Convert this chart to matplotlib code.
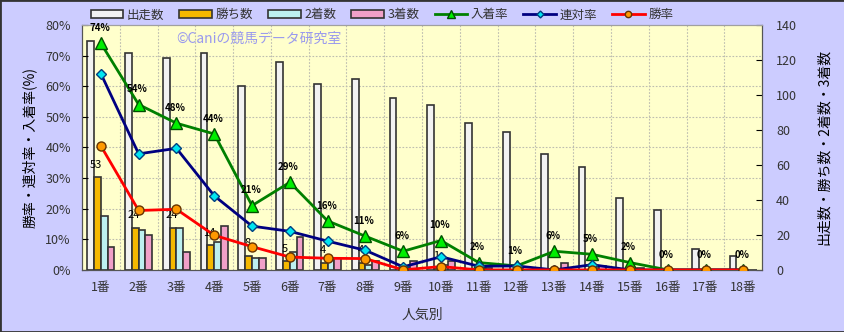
import matplotlib
matplotlib.use("Agg")
import matplotlib.pyplot as plt
import numpy as np
from matplotlib.patches import Rectangle

plt.rcParams['font.family'] = ['Noto Sans CJK JP', 'DejaVu Sans']

# data
labels = ['%d番' % i for i in range(1, 19)]
starts = [131, 124, 121, 124, 105, 119, 106, 109, 98, 94, 84, 79, 66, 59, 41, 34, 12, 8]
wins = [53, 24, 24, 14, 8, 5, 4, 4, 0, 1, 0, 0, 0, 0, 0, 0, 0, 0]
second = [31, 23, 24, 16, 7, 10, 6, 3, 1, 3, 1, 1, 0, 1, 0, 0, 0, 0]
third = [13, 20, 10, 25, 7, 19, 7, 5, 5, 5, 1, 0, 4, 2, 1, 0, 0, 0]
place_rate = [74.0, 54.0, 47.9, 44.4, 21.0, 28.6, 16.0, 11.0, 6.1, 9.6, 2.4, 1.3, 6.1, 5.1, 2.4, 0, 0, 0]
rentai_rate = [64.1, 37.9, 39.7, 24.2, 14.3, 12.6, 9.4, 6.4, 1.0, 4.3, 1.2, 1.3, 0, 1.7, 0, 0, 0, 0]
win_rate = [40.5, 19.4, 19.8, 11.3, 7.6, 4.2, 3.8, 3.7, 0, 1.1, 0, 0, 0, 0, 0, 0, 0, 0]

fig = plt.figure(figsize=(8.45, 3.32), dpi=100)
fig.patch.set_facecolor('#CCCCFF')
fig.patches.append(Rectangle((0, 0), 1, 1, transform=fig.transFigure, fill=False,
                             edgecolor='#333333', lw=2))

ax = fig.add_axes([0.097, 0.187, 0.805, 0.738])
axp = ax.twinx()
ax.set_facecolor('#FFFFCC')
x = np.arange(len(labels))
w = 0.18

# grid behind bars
for y in np.arange(17.5, 140, 17.5):
    ax.axhline(y, color='#BDBDB0', lw=0.8, ls=(0, (1.5, 1.5)), zorder=0)
for i in range(len(labels) - 1):
    ax.axvline(i + 0.5, color='#BDBDB0', lw=0.8, ls=(0, (1.5, 1.5)), zorder=0)

ec = '#333333'
b1 = ax.bar(x - 1.5 * w, starts, w, color='#F2F2F2', edgecolor=ec, lw=1.2, label='出走数', zorder=2)
b2 = ax.bar(x - 0.5 * w, wins, w, color='#F5B800', edgecolor=ec, lw=1.2, label='勝ち数', zorder=2)
b3 = ax.bar(x + 0.5 * w, second, w, color='#BDF0F0', edgecolor=ec, lw=1.2, label='2着数', zorder=2)
b4 = ax.bar(x + 1.5 * w, third, w, color='#F0A0C8', edgecolor=ec, lw=1.2, label='3着数', zorder=2)

for xi, v in zip(x, wins):
    if v > 0:
        ax.annotate(str(v), (xi - 0.5 * w, v), xytext=(-1, 9), textcoords='offset points',
                    ha='center', va='center', fontsize=8, zorder=3)

ax.set_xlim(-0.5, len(labels) - 0.5)
ax.set_ylim(0, 140)
ax.set_yticks(range(0, 141, 20))
ax.yaxis.tick_right()
ax.yaxis.set_label_position('right')
ax.set_ylabel('出走数・勝ち数・2着数・3着数', rotation=90, fontsize=10, labelpad=14)
ax.set_xticks(x)
ax.set_xticklabels(labels)
ax.set_xlabel('人気別', fontsize=10, color='#333333', labelpad=10)
ax.tick_params(axis='x', length=0, labelsize=9, labelcolor='#333333', pad=8)
ax.tick_params(axis='y', direction='in', length=4, labelsize=9, labelcolor='#333333', pad=10)

axp.yaxis.tick_left()
axp.yaxis.set_label_position('left')
axp.set_ylim(0, 80)
axp.set_yticks(range(0, 81, 10))
axp.set_yticklabels(['%d%%' % t for t in range(0, 81, 10)])
axp.tick_params(axis='y', direction='in', length=4, labelsize=9, labelcolor='#333333', pad=8)
axp.set_ylabel('勝率・連対率・入着率(%)', fontsize=10, labelpad=6)

l1, = axp.plot(x, place_rate, color='#008000', lw=2, marker='^', ms=8,
               mfc='#00EE00', mec='#005000', label='入着率', zorder=4)
l2, = axp.plot(x, rentai_rate, color='#000080', lw=2, marker='D', ms=5,
               mfc='#00E5F0', mec='#004080', label='連対率', zorder=5)
l3, = axp.plot(x, win_rate, color='#FF0000', lw=2, marker='o', ms=6.5,
               mfc='#FF9900', mec='#663300', label='勝率', zorder=6)

for xi, v in zip(x, place_rate):
    axp.annotate('%d%%' % round(v), (xi, v), xytext=(-1, 11), textcoords='offset points',
                 ha='center', va='center', fontsize=7, fontweight='bold', zorder=7)

for s in ['left', 'right', 'bottom']:
    ax.spines[s].set_color('#555555')
    axp.spines[s].set_color('#555555')
ax.spines['top'].set_color('#A0A0A0')
axp.spines['top'].set_color('#A0A0A0')

ax.text(0.138, 0.925, '©Caniの競馬データ研究室', transform=ax.transAxes,
        fontsize=10, color='#9999EE', zorder=8)

fig.legend([b1, b2, b3, b4, l1, l2, l3],
           ['出走数', '勝ち数', '2着数', '3着数', '入着率', '連対率', '勝率'],
           loc='center', bbox_to_anchor=(0.452, 0.955), ncol=7, frameon=False,
           fontsize=9, handlelength=2.6, handleheight=0.5, columnspacing=1.2,
           handletextpad=0.3, markerscale=0.7, labelcolor='#333333')

fig.savefig('out.png', dpi=100, facecolor=fig.get_facecolor())
